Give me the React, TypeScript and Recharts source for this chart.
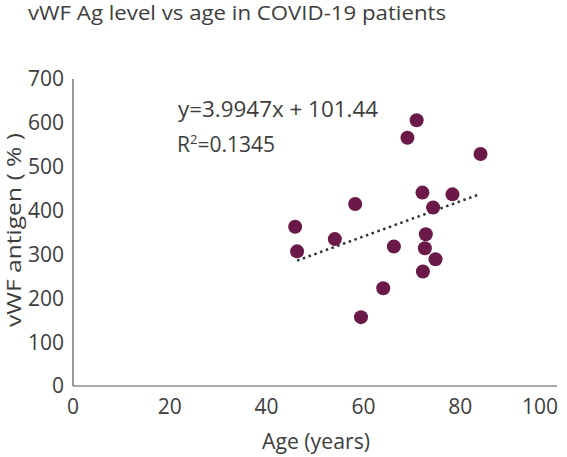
import React from 'react';
import { ScatterChart, Scatter, XAxis, YAxis } from 'recharts';

const ages = [71.0, 69.1, 84.2, 72.2, 78.4, 58.3, 74.4, 45.9, 54.1, 46.3, 66.3, 72.9, 72.7, 74.9, 72.3, 64.1, 59.5];
const vwf = [606, 566, 529, 441, 437, 415, 407, 363, 335, 307, 318, 346, 314, 289, 261, 223, 157];
const trendX = [46.3, 84.2];
const trendY = [286, 438];
const xTicks = [0, 20, 40, 60, 80, 100];
const yTicks = [0, 100, 200, 300, 400, 500, 600, 700];

const points = ages.map((a, i) => ({ x: a, y: vwf[i] }));
const trend = trendX.map((a, i) => ({ x: a, y: trendY[i] }));

const FONT = '"Open Sans", sans-serif';
const TXT = '#3d3d3d';
const DOT = '#6b1948';

const XTick = (props: any) => {
  const { x, y, payload } = props;
  const last = payload.value === 100;
  return (
    <text x={last ? x + 3 : x} y={y} dy="0.71em" textAnchor={last ? 'end' : 'middle'} fill={TXT} fontSize={21} fontFamily={FONT}>
      {payload.value}
    </text>
  );
};

const Dot = (props: any) => <circle cx={props.cx} cy={props.cy} r={7} fill={DOT} />;
const NoDot = () => <g />;

export default function App() {
  return (
    <div style={{ position: 'absolute', left: 0, top: 0, width: 567, height: 457, background: '#fff' }}>
      <ScatterChart width={567} height={457} margin={{ top: 79, right: 10, left: 0, bottom: 0 }}>
        <XAxis
          type="number"
          dataKey="x"
          domain={[0, 100]}
          ticks={xTicks}
          tickLine={false}
          tickSize={0}
          tickMargin={13}
          height={71}
          axisLine={{ stroke: '#555', strokeWidth: 1.2 }}
          tick={<XTick />}
        />
        <YAxis
          type="number"
          dataKey="y"
          domain={[0, 700]}
          ticks={yTicks}
          tickLine={false}
          tickSize={0}
          tickMargin={9}
          width={73}
          axisLine={{ stroke: '#555', strokeWidth: 1.2 }}
          tick={{ fill: TXT, fontSize: 21, fontFamily: FONT }}
        />
        <Scatter
          data={trend}
          line={{ stroke: '#333', strokeWidth: 2.5, strokeDasharray: '2.5 3.6' }}
          shape={<NoDot />}
          isAnimationActive={false}
        />
        <Scatter data={points} fill={DOT} shape={<Dot />} isAnimationActive={false} />
      </ScatterChart>
      <svg width={567} height={457} style={{ position: 'absolute', left: 0, top: 0, pointerEvents: 'none' }}>
        <text x={28} y={20} fill={TXT} fontSize={20} fontFamily={FONT} textLength={418} lengthAdjust="spacingAndGlyphs">
          vWF Ag level vs age in COVID-19 patients
        </text>
        <text x={178} y={117} fill={TXT} fontSize={21} fontFamily={FONT} textLength={200} lengthAdjust="spacingAndGlyphs">
          y=3.9947x + 101.44
        </text>
        <text x={177} y={152} fill={TXT} fontSize={21} fontFamily={FONT}>
          R<tspan dy={-8} fontSize={13}>2</tspan>
          <tspan dy={8}>=0.1345</tspan>
        </text>
        <text x={316} y={449} textAnchor="middle" fill={TXT} fontSize={21} fontFamily={FONT} textLength={108} lengthAdjust="spacingAndGlyphs">
          Age (years)
        </text>
        <text
          x={21}
          y={230}
          textAnchor="middle"
          fill={TXT}
          fontSize={19.5}
          fontFamily={FONT}
          textLength={194}
          lengthAdjust="spacingAndGlyphs"
          transform="rotate(-90 21 230)"
        >
          vWF antigen ( % )
        </text>
      </svg>
    </div>
  );
}
